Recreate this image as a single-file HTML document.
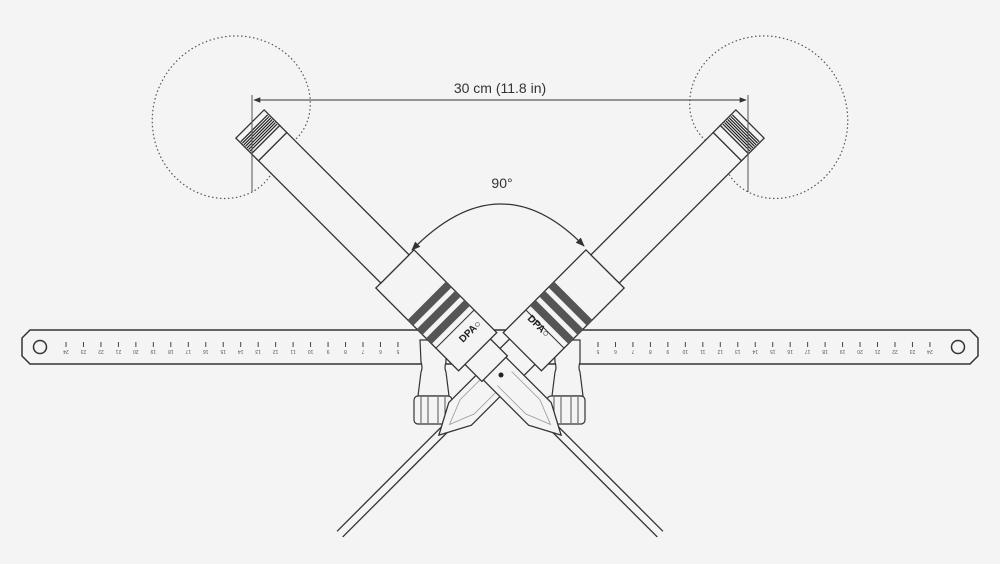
<!DOCTYPE html>
<html><head><meta charset="utf-8"><style>
html,body{margin:0;padding:0;background:#f4f4f4;}
svg{display:block;}
</style></head><body>
<svg id="s" width="1000" height="564" viewBox="0 0 1000 564" xmlns="http://www.w3.org/2000/svg" font-family="Liberation Sans, sans-serif">
<rect width="1000" height="564" fill="#f4f4f4"/>
<defs>
<marker id="ah" viewBox="0 0 10 10" refX="9" refY="5" markerWidth="7" markerHeight="7" orient="auto-start-reverse"><path d="M0,1 L10,5 L0,9 z" fill="#333"/></marker>
<g id="mic">
  <line x1="430" y1="-4" x2="580" y2="-4" stroke="#333" stroke-width="1.3"/>
  <line x1="430" y1="4" x2="580" y2="4" stroke="#333" stroke-width="1.3"/>
  <path d="M345,-16 L410,-16 L440,0 L410,16 L345,16 Z" fill="#f4f4f4" stroke="#333" stroke-width="1.3"/>
  <path d="M360,-10 L400,-10 L425,0 L400,10 L360,10" fill="none" stroke="#999" stroke-width="0.8"/>
  <circle cx="355" cy="0" r="2.5" fill="#222"/>
  <rect x="320" y="-18" width="26" height="36" fill="#f4f4f4" stroke="#333" stroke-width="1.3"/>
  <rect x="205" y="-27" width="117" height="54" fill="#f4f4f4" stroke="#333" stroke-width="1.3"/>
  <rect x="250" y="-27" width="8" height="54" fill="#555"/>
  <rect x="263" y="-27" width="8" height="54" fill="#555"/>
  <rect x="276" y="-27" width="8" height="54" fill="#555"/>
  <line x1="290" y1="-27" x2="290" y2="27" stroke="#333"/>
  <rect x="32" y="-20" width="173" height="40" fill="#f4f4f4" stroke="#333" stroke-width="1.3"/>
  <rect x="22" y="-20" width="10" height="40" fill="#f4f4f4" stroke="#333" stroke-width="1.3"/>
  <rect x="0" y="-20" width="22" height="40" fill="#f4f4f4" stroke="#333" stroke-width="1.3"/>
  <g id="ribs" stroke="#222" stroke-width="1.2"></g>
</g>
</defs>
<!-- cardioids (behind mics) -->
<path id="c1" fill="none" stroke="#555" stroke-width="1.2" stroke-dasharray="1.5,2.5"/>
<path id="c2" fill="none" stroke="#555" stroke-width="1.2" stroke-dasharray="1.5,2.5"/>
<!-- ruler -->
<path d="M30,330 L970,330 L978,338 L978,356 L970,364 L30,364 L22,356 L22,338 Z" fill="#f4f4f4" stroke="#333" stroke-width="1.5"/>
<circle cx="40" cy="347" r="6.5" fill="none" stroke="#333" stroke-width="1.5"/>
<circle cx="958" cy="347" r="6.5" fill="none" stroke="#333" stroke-width="1.5"/>
<g id="ticks" stroke="#444" stroke-width="1"></g>
<g stroke="#333" stroke-width="1.2" fill="#f4f4f4">
  <path d="M420,340 L446,340 L446,362 Q444,368 446,372 L449,396 L418,396 L421,372 Q423,368 421,362 Z"/>
  <rect x="414" y="396" width="38" height="28" rx="4"/>
  <path d="M554,340 L580,340 L580,362 Q578,368 580,372 L583,396 L552,396 L555,372 Q557,368 555,362 Z"/>
  <rect x="547" y="396" width="38" height="28" rx="4"/>
</g>
<g stroke="#555" stroke-width="1">
  <line x1="421" y1="397" x2="421" y2="423"/><line x1="428" y1="397" x2="428" y2="423"/><line x1="438" y1="397" x2="438" y2="423"/><line x1="445" y1="397" x2="445" y2="423"/>
  <line x1="554" y1="397" x2="554" y2="423"/><line x1="561" y1="397" x2="561" y2="423"/><line x1="571" y1="397" x2="571" y2="423"/><line x1="578" y1="397" x2="578" y2="423"/>
</g>
<use href="#mic" transform="translate(750,124) rotate(135) scale(1,-1)"/>
<use href="#mic" transform="translate(250,124) rotate(45)"/>
<text transform="translate(463,343) rotate(-45)" font-size="10" font-weight="bold" fill="#222">DPA○</text>
<text transform="translate(527,319) rotate(45)" font-size="10" font-weight="bold" fill="#222">DPA○</text>
<line x1="252" y1="95" x2="252" y2="192" stroke="#555" stroke-width="1"/>
<line x1="748" y1="95" x2="748" y2="192" stroke="#555" stroke-width="1"/>
<line x1="254" y1="100" x2="746" y2="100" stroke="#333" stroke-width="1" marker-start="url(#ah)" marker-end="url(#ah)"/>
<text x="500" y="93" font-size="14" fill="#333" text-anchor="middle">30 cm (11.8 in)</text>
<path d="M412,250 Q500,160 584,246" fill="none" stroke="#333" stroke-width="1.3" marker-start="url(#ah)" marker-end="url(#ah)"/>
<text x="502" y="188" font-size="14" fill="#333" text-anchor="middle">90°</text>
<script>
var ns="http://www.w3.org/2000/svg";
var r=document.getElementById("ribs");
for(var x=6;x<=20;x+=2.2){var l=document.createElementNS(ns,"line");l.setAttribute("x1",x);l.setAttribute("x2",x);l.setAttribute("y1",-19);l.setAttribute("y2",19);r.appendChild(l);}
var t=document.getElementById("ticks");
function tick(x,n){var l=document.createElementNS(ns,"line");l.setAttribute("x1",x);l.setAttribute("x2",x);l.setAttribute("y1",342);l.setAttribute("y2",347);t.appendChild(l);
var tx=document.createElementNS(ns,"text");tx.setAttribute("transform","translate("+x+",350) rotate(180)");tx.setAttribute("font-size","5");tx.setAttribute("fill","#555");tx.setAttribute("stroke","none");tx.setAttribute("text-anchor","middle");tx.textContent=n;t.appendChild(tx);}
for(var i=0;i<20;i++){tick(66+i*17.47,24-i);tick(598+(19-i)*17.47,24-i);}
function card(id,cx,cy,phi){var d="";for(var k=0;k<=360;k+=3){var th=k*Math.PI/180;var rr=64*(1+Math.cos(th));var a=phi+th;var x=cx+rr*Math.cos(a),y=cy+rr*Math.sin(a);d+=(k?"L":"M")+x.toFixed(1)+","+y.toFixed(1);}document.getElementById(id).setAttribute("d",d);}
card("c1",272,146,Math.PI*1.2);
card("c2",728,146,-Math.PI*0.2);
</script>
</svg>
</body></html>
